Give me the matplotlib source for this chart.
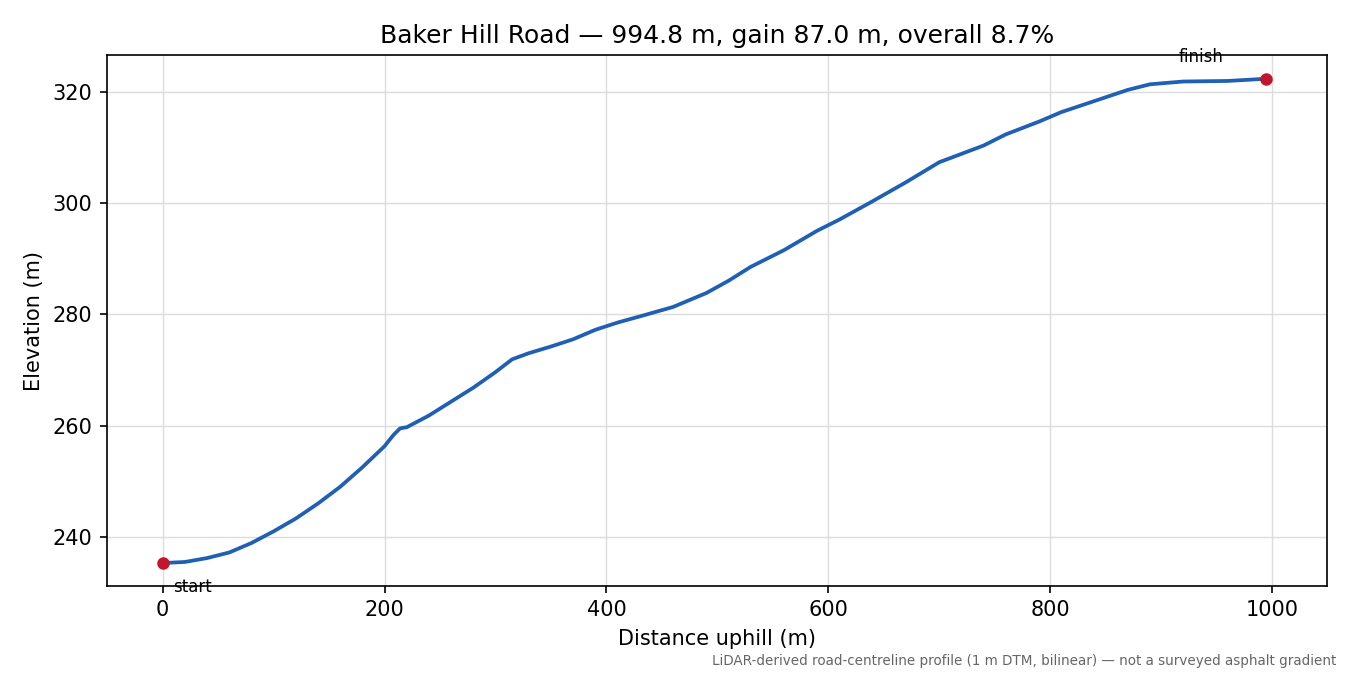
import matplotlib
matplotlib.use("Agg")
import matplotlib.pyplot as plt

dist = [0, 20, 40, 60, 80, 100, 120, 140, 160, 180, 200, 208, 214, 220, 240, 260, 280, 300, 315,
        330, 350, 370, 390, 410, 430, 460, 490, 510, 530, 560, 590, 610, 640, 670, 700, 720, 740,
        760, 790, 810, 840, 870, 890, 920, 960, 994.8]
elev = [235.3, 235.5, 236.2, 237.2, 238.9, 241.0, 243.3, 246.0, 249.0, 252.5, 256.3, 258.3, 259.5, 259.7,
        261.8, 264.3, 266.8, 269.6, 271.9, 273.0, 274.2, 275.5, 277.2, 278.5, 279.6, 281.3, 283.8, 286.0,
        288.5, 291.5, 295.0, 297.0, 300.3, 303.7, 307.3, 308.8, 310.3, 312.3, 314.6, 316.3, 318.3, 320.3,
        321.3, 321.8, 321.9, 322.3]

fig = plt.figure(figsize=(9, 4.5), dpi=150)
ax = fig.add_axes([0.079, 0.132, 0.904, 0.786])
ax.plot(dist, elev, color="#1f5fb4", lw=1.8)
ax.plot([dist[0], dist[-1]], [elev[0], elev[-1]], "o", color="#c0182a", ms=5, zorder=3)
ax.annotate("start", (dist[0], elev[0]), xytext=(5, -14), textcoords="offset points", fontsize=8)
ax.annotate("finish", (dist[-1], elev[-1]), xytext=(-42, 8), textcoords="offset points", fontsize=8)
ax.set_ylim(231.2, 326.5)
ax.set_xlim(-50.5, 1049.6)
ax.grid(True, color="#dddddd", lw=0.7)
ax.set_xlabel("Distance uphill (m)")
ax.set_ylabel("Elevation (m)")
ax.set_title("Baker Hill Road — 994.8 m, gain 87.0 m, overall 8.7%")
fig.text(0.99, 0.01, "LiDAR-derived road-centreline profile (1 m DTM, bilinear) — not a surveyed asphalt gradient",
         ha="right", va="bottom", fontsize=6.5, color="#666666")
fig.savefig("out.png", dpi=150)
